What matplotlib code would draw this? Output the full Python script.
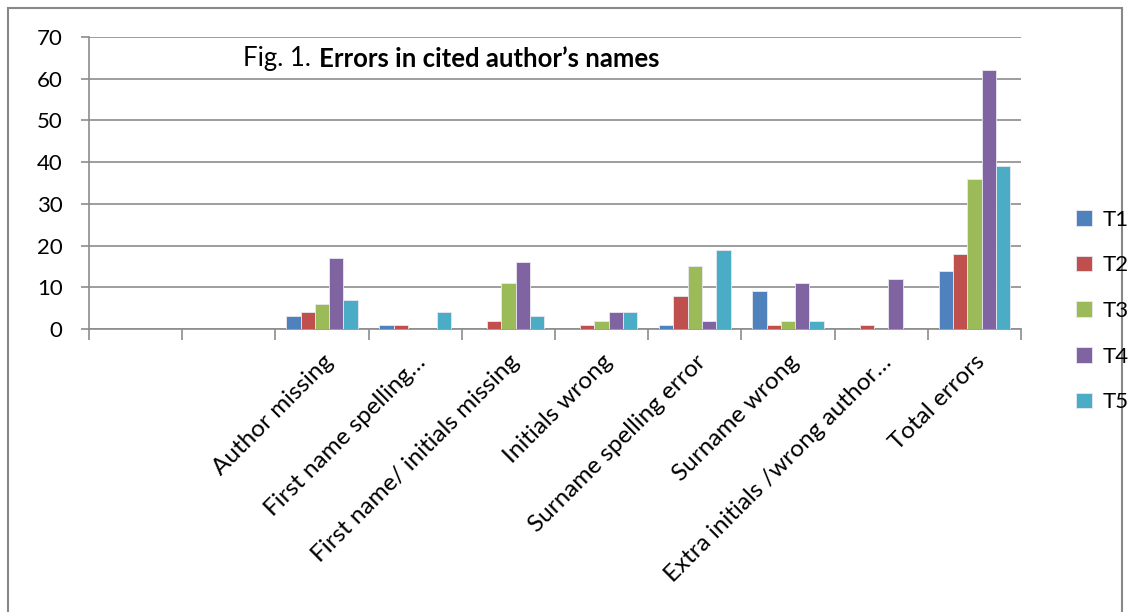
import matplotlib.pyplot as plt
import numpy as np
from matplotlib.patches import Rectangle

categories = ["", "", "Author missing", "First name spelling\u2026",
              "First name/ initials missing", "Initials wrong",
              "Surname spelling error", "Surname wrong",
              "Extra initials /wrong author\u2026", "Total errors"]
series = ["T1", "T2", "T3", "T4", "T5"]
T1 = [0, 0, 3, 1, 0, 0, 1, 9, 0, 14]
T2 = [0, 0, 4, 1, 2, 1, 8, 1, 1, 18]
T3 = [0, 0, 6, 0, 11, 2, 15, 2, 0, 36]
T4 = [0, 0, 17, 0, 16, 4, 2, 11, 12, 62]
T5 = [0, 0, 7, 4, 3, 4, 19, 2, 0, 39]
colors = ["#4F81BD", "#C0504D", "#9BBB59", "#8064A2", "#4BACC6"]

plt.rcParams['font.family'] = ['Lato', 'DejaVu Sans']

fig = plt.figure(figsize=(11.3, 6.12), dpi=100)
fig.patches.append(Rectangle((8/1130, -0.1), 1114/1130, 1.1 - 8/612, transform=fig.transFigure,
                             fill=False, edgecolor="#888888", linewidth=1.5))
ax = fig.add_axes([89/1130, 1-329/612, 932/1130, 292/612])

x = np.arange(len(categories))
w = 0.1534
for i, (vals, name) in enumerate(zip([T1, T2, T3, T4, T5], series)):
    ax.bar(x - 2*w + i*w, vals, w, color=colors[i], edgecolor="#e8e8f0",
           linewidth=0.6, label=name, zorder=3)

ax.set_xlim(-0.5, len(categories) - 0.5)
ax.set_ylim(0, 70)
ax.set_yticks(range(0, 71, 10))
ax.yaxis.grid(True, color="#8c8c8c", linewidth=1.2, zorder=0)
ax.set_xticks(np.arange(-0.5, len(categories)), minor=False)
ax.set_xticklabels([])
ax.set_xticks(x, minor=True)
ax.set_xticklabels(categories, minor=True, rotation=45, ha="right",
                   rotation_mode="anchor", fontsize=17.5)
ax.tick_params(axis="x", which="minor", length=0, pad=16)
ax.tick_params(axis="x", which="major", length=8, color="#8c8c8c", width=1.2)
ax.tick_params(axis="y", length=6, color="#8c8c8c", width=1.2, labelsize=16, pad=13)
for s in ["top", "right"]:
    ax.spines[s].set_visible(False)
for s in ["left", "bottom"]:
    ax.spines[s].set_color("#8c8c8c")
    ax.spines[s].set_linewidth(1.2)

t1 = ax.text(0.165, 0.925, "Fig. 1. ", transform=ax.transAxes, fontsize=18.5, va="center")
fig.canvas.draw()
bb = t1.get_window_extent()
x2 = ax.transAxes.inverted().transform((bb.x1 + 2, 0))[0]
ax.text(x2, 0.925, "Errors in cited author\u2019s names", transform=ax.transAxes,
        fontsize=18.5, fontweight="bold", va="center")

fig.legend(loc="center left", bbox_to_anchor=(1056/1130, 1-311/612), frameon=False,
           fontsize=16, handlelength=0.7, handleheight=0.7, labelspacing=1.15,
           handletextpad=0.5)

fig.savefig("out.png", dpi=100)
